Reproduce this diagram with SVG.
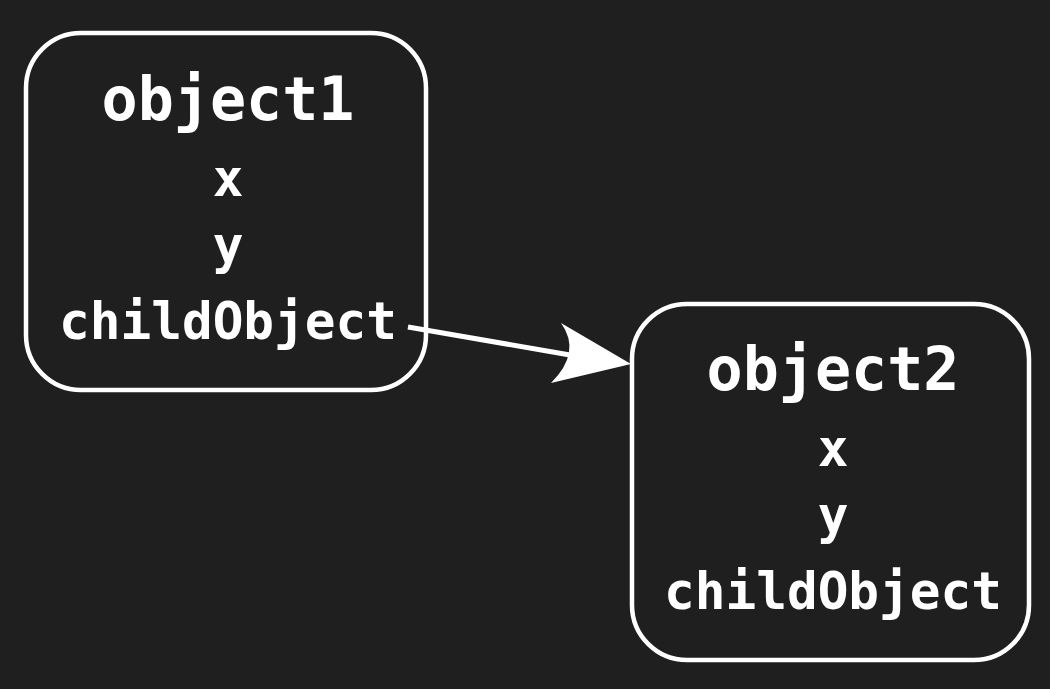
<svg xmlns="http://www.w3.org/2000/svg" width="1050" height="689" viewBox="0 0 1050 689">
<style>
.box{fill:#1f1f1f;stroke:#ffffff;stroke-width:4.5}
.t{fill:#ffffff;font-family:"DejaVu Sans Mono","Liberation Mono",monospace;font-weight:bold;text-anchor:middle}
.title{font-size:60px}
.f{font-size:51px}
.edge{stroke:#ffffff;stroke-width:5;fill:none}
.head{fill:#ffffff}
</style>
<rect x="0" y="0" width="1050" height="689" fill="#1f1f1f"/>
<g id="object1">
<rect class="box" x="26" y="33" width="400" height="357" rx="55"/>
<text class="t title" x="228" y="120">object1</text>
<text class="t f" x="228" y="196">x</text>
<text class="t f" x="228" y="263">y</text>
<text class="t f" x="228" y="339">childObject</text>
</g>
<g id="object2">
<rect class="box" x="632" y="304" width="397" height="356" rx="55"/>
<text class="t title" x="833" y="390">object2</text>
<text class="t f" x="833" y="466">x</text>
<text class="t f" x="833" y="533">y</text>
<text class="t f" x="833" y="609">childObject</text>
</g>
<g id="connectors">
<path class="edge" d="M408,327 L570,355"/>
<path class="head" d="M631,364 L561,323 Q582,352 551,383 Z"/>
</g>
</svg>
